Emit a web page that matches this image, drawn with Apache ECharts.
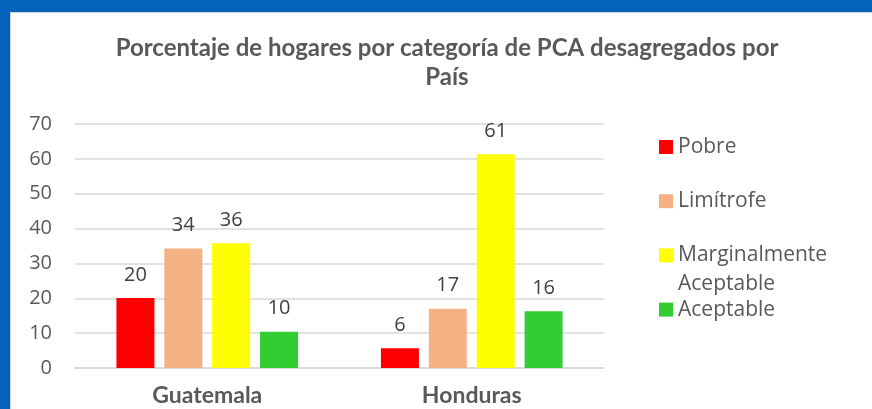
<!DOCTYPE html>
<html>
<head>
<meta charset="utf-8">
<script src="https://cdn.jsdelivr.net/npm/echarts@6/dist/echarts.min.js"></script>
<style>
html, body { margin: 0; padding: 0; }
body { width: 872px; height: 409px; background: #0563bb; position: relative; overflow: hidden; }
.panel { position: absolute; left: 10px; top: 12px; width: 870px; height: 400px; background: #fff; border-left: 1px solid #d4d4d4; border-top: 1px solid #d4d4d4; }
.main { position: absolute; left: 0; top: 0; width: 872px; height: 409px; }
</style>
</head>
<body>
<div class="panel"></div>
<div class="main" id="main"></div>
<script>
const paises = ['Guatemala', 'Honduras']
const categorias = ['Pobre', 'Limítrofe', 'Marginalmente Aceptable', 'Aceptable']
const colores = ['#ff0000', '#f4b183', '#ffff00', '#33cc33']
const pobre = [20.1, 5.7]
const limitrofe = [34.3, 17.0]
const marginal = [35.8, 61.3]
const aceptable = [10.4, 16.3]
const valores = [pobre, limitrofe, marginal, aceptable]
const ticksY = { min: 0, max: 70, interval: 10 }

const gris = '#595959'
const fuente = '"Open Sans", sans-serif'

let myChart = echarts.init(document.getElementById('main'))
let series = categorias.map((c, i) => ({
    name: c,
    type: 'bar',
    data: valores[i],
    barWidth: 38,
    barGap: '26%',
    itemStyle: { color: colores[i] },
    label: {
        show: true,
        position: 'top',
        distance: 13,
        color: '#404040',
        fontSize: 20,
        fontFamily: fuente,
        formatter: p => Math.round(p.value)
    }
}))

let option = {
    animation: false,
    title: {
        text: 'Porcentaje de hogares por categoría de PCA desagregados por\nPaís',
        left: 447,
        top: 34,
        padding: 0,
        textAlign: 'center',
        textStyle: {
            fontFamily: 'Lato',
            fontWeight: 'bold',
            fontSize: 24,
            lineHeight: 29,
            color: gris
        }
    },
    legend: {
        orient: 'vertical',
        left: 659,
        top: 136,
        padding: 0,
        itemWidth: 14,
        itemHeight: 14,
        itemGap: 32.2,
        icon: 'rect',
        formatter: n => n === 'Marginalmente Aceptable' ? 'Marginalmente' : n,
        textStyle: { fontFamily: fuente, fontSize: 21, lineHeight: 22, color: gris },
        data: categorias
    },
    graphic: [{
        type: 'text',
        left: 678,
        top: 274,
        style: { text: 'Aceptable', font: '21px "Open Sans", sans-serif', fill: gris }
    }],
    grid: { left: 75, right: 268, top: 124, bottom: 41 },
    xAxis: {
        type: 'category',
        data: paises,
        axisTick: { show: false },
        axisLine: { lineStyle: { color: '#d9d9d9', width: 1.5 } },
        axisLabel: { margin: 16, fontFamily: 'Lato', fontWeight: 'bold', fontSize: 23, color: gris }
    },
    yAxis: {
        type: 'value',
        min: ticksY.min,
        max: ticksY.max,
        interval: ticksY.interval,
        axisLine: { show: false },
        axisTick: { show: false },
        splitLine: { lineStyle: { color: '#d9d9d9', width: 1.5 } },
        axisLabel: { margin: 23, fontFamily: fuente, fontSize: 20, color: gris }
    },
    series: series
}
myChart.setOption(option)
</script>
</body>
</html>
